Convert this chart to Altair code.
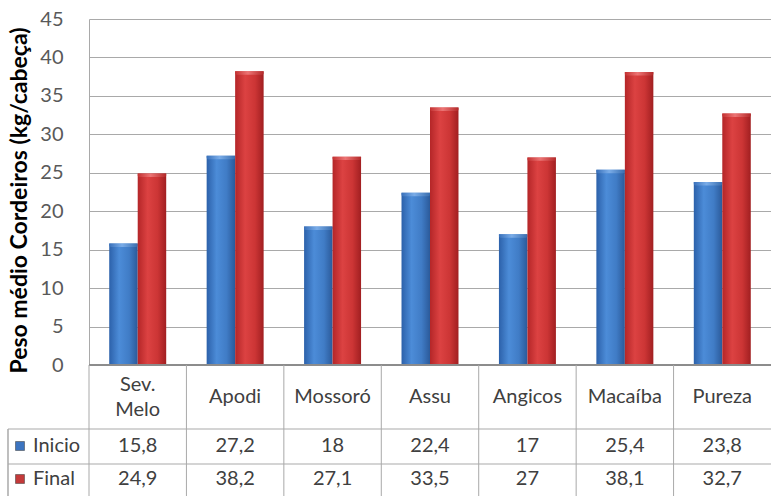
import altair as alt
import pandas as pd

# Average lamb weight per municipality, start vs end of the period
categories = ["Sev. Melo", "Apodi", "Mossoró", "Assu", "Angicos", "Macaíba", "Pureza"]
series = ["Inicio", "Final"]
inicio = [15.8, 27.2, 18, 22.4, 17, 25.4, 23.8]
final = [24.9, 38.2, 27.1, 33.5, 27, 38.1, 32.7]


def br_number(v):
    s = f"{v:g}"
    return s.replace(".", ",")


rows = []
for c, a, b in zip(categories, inicio, final):
    rows.append({"cat": c, "serie": "Inicio", "value": a, "label": br_number(a)})
    rows.append({"cat": c, "serie": "Final", "value": b, "label": br_number(b)})
df = pd.DataFrame(rows)
cats_df = pd.DataFrame({"cat": categories})
legend_df = pd.DataFrame({"serie": series})

FONT = "Lato"
FS = 20
W, H = 682, 346          # plot area
HDR_MID, HDR_LINE = 378, 25
HDR_BOTTOM, ROW1_BOTTOM, TABLE_BOTTOM = 410, 445, 477
LEFT_COL = -81           # left edge of the legend column of the data table
GRID = "#a9a9a9"
TXT = "#404040"

x_scale = alt.Scale(domain=categories, paddingInner=0, paddingOuter=0)
xo_scale = alt.Scale(domain=series, paddingInner=0, paddingOuter=0.71)

blue_grad = alt.Gradient(
    gradient="linear", x1=0, x2=1, y1=0, y2=0,
    stops=[alt.GradientStop(color="#2c61aa", offset=0),
           alt.GradientStop(color="#4c8cd8", offset=0.35),
           alt.GradientStop(color="#407cc6", offset=0.7),
           alt.GradientStop(color="#2b5a9a", offset=1)])
red_grad = alt.Gradient(
    gradient="linear", x1=0, x2=1, y1=0, y2=0,
    stops=[alt.GradientStop(color="#b42628", offset=0),
           alt.GradientStop(color="#dc4242", offset=0.35),
           alt.GradientStop(color="#cc3535", offset=0.7),
           alt.GradientStop(color="#a11f21", offset=1)])
blue_cap = alt.Gradient(
    gradient="linear", x1=0, x2=1, y1=0, y2=0,
    stops=[alt.GradientStop(color="#3a72bc", offset=0),
           alt.GradientStop(color="#7fb0ea", offset=0.45),
           alt.GradientStop(color="#3a6fb0", offset=1)])
red_cap = alt.Gradient(
    gradient="linear", x1=0, x2=1, y1=0, y2=0,
    stops=[alt.GradientStop(color="#c53232", offset=0),
           alt.GradientStop(color="#ee7a7a", offset=0.45),
           alt.GradientStop(color="#b52a2a", offset=1)])

y_axis = alt.Axis(
    values=list(range(0, 50, 5)), grid=True, gridColor=GRID, gridWidth=1,
    domain=True, domainColor=GRID, ticks=False, labelOverlap=False,
    labelFont=FONT, labelFontSize=FS, labelColor="#595959", labelPadding=26,
    title="Peso médio Cordeiros (kg/cabeça)", titleFont=FONT, titleFontSize=23,
    titleFontWeight="bold", titleColor="#000000", titleAngle=270,
    titleX=-70, titleY=181, titleAlign="center", titleBaseline="middle",
)
y_scale = alt.Scale(domain=[0, 45], nice=False)


def bars(name, grad, cap):
    base = alt.Chart(df).transform_filter(alt.datum.serie == name)
    body = base.mark_bar(color=grad).encode(
        x=alt.X("cat:N", scale=x_scale, axis=None),
        xOffset=alt.XOffset("serie:N", scale=xo_scale),
        y=alt.Y("value:Q", scale=y_scale, axis=y_axis),
    )
    top = base.transform_calculate(top2="datum.value - 0.45").mark_bar(
        color=cap, opacity=0.9, cornerRadiusBottomLeft=3, cornerRadiusBottomRight=3
    ).encode(
        x=alt.X("cat:N", scale=x_scale, axis=None),
        xOffset=alt.XOffset("serie:N", scale=xo_scale),
        y=alt.Y("value:Q", scale=y_scale, axis=y_axis),
        y2="top2:Q",
    )
    return body + top


blue_bars = bars("Inicio", blue_grad, blue_cap)
red_bars = bars("Final", red_grad, red_cap)

baseline = alt.Chart(cats_df).mark_rule(color="#8c8c8c", strokeWidth=1).encode(
    x=alt.value(0), x2=alt.value(W), y=alt.value(H)
)

# Data table under the bars
col_lines = alt.Chart(cats_df).mark_rule(color=GRID, strokeWidth=1).encode(
    x=alt.X("cat:N", scale=x_scale, bandPosition=0, axis=None),
    y=alt.value(H), y2=alt.value(TABLE_BOTTOM),
)
left_line = alt.Chart(legend_df).mark_rule(color=GRID, strokeWidth=1).encode(
    x=alt.value(LEFT_COL), y=alt.value(HDR_BOTTOM), y2=alt.value(TABLE_BOTTOM)
)
row_lines = alt.Chart(pd.DataFrame({"y": [HDR_BOTTOM, ROW1_BOTTOM]})).mark_rule(
    color=GRID, strokeWidth=1
).encode(x=alt.value(LEFT_COL), x2=alt.value(W), y=alt.Y("y:Q", scale=None))

# Column headers; two-word names wrap onto two lines centred in the header row
header = alt.Chart(cats_df).transform_calculate(
    nlines="length(split(datum.cat, ' '))",
    ypos=f"{HDR_MID} - {HDR_LINE / 2} * (datum.nlines - 1)",
).mark_text(
    font=FONT, fontSize=FS, color=TXT, lineBreak=" ", lineHeight=HDR_LINE, baseline="middle"
).encode(
    x=alt.X("cat:N", scale=x_scale, axis=None),
    y=alt.Y("ypos:Q", scale=None),
    text="cat:N",
)


def value_row(name, ypos, color):
    vals = alt.Chart(df).transform_filter(alt.datum.serie == name).mark_text(
        font=FONT, fontSize=FS, color=TXT, baseline="middle"
    ).encode(
        x=alt.X("cat:N", scale=x_scale, axis=None),
        y=alt.value(ypos),
        text="label:N",
    )
    key = alt.Chart(legend_df).transform_filter(alt.datum.serie == name).mark_point(
        shape="square", filled=True, size=80, color=color, opacity=1,
        stroke="#333333", strokeWidth=0.5
    ).encode(x=alt.value(-69), y=alt.value(ypos))
    key_text = alt.Chart(legend_df).transform_filter(alt.datum.serie == name).mark_text(
        font=FONT, fontSize=FS, color=TXT, align="left", baseline="middle"
    ).encode(x=alt.value(-56), y=alt.value(ypos), text="serie:N")
    return vals + key + key_text


chart = alt.layer(
    blue_bars, red_bars, baseline,
    col_lines, left_line, row_lines, header,
    value_row("Inicio", 427, "#3c74c0"),
    value_row("Final", 460, "#c43a3a"),
).properties(
    width=W, height=H,
    padding={"left": 89, "top": 19, "right": 0, "bottom": 131},
    autosize=alt.AutoSizeParams(type="none"),
).configure_view(stroke=None)

chart.save("out.html", embed_options={"renderer": "svg", "actions": False})
